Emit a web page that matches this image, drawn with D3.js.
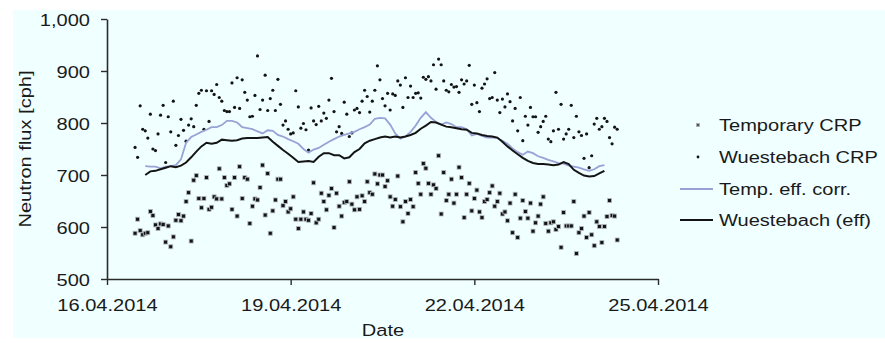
<!DOCTYPE html>
<html><head><meta charset="utf-8">
<script src="https://cdn.jsdelivr.net/npm/d3@7"></script>
<style>
html,body{margin:0;padding:0;background:#ffffff;}
svg{display:block;font-family:"Liberation Sans",Arial,sans-serif;}
</style>
</head><body>
<svg id="chart" width="885" height="343"></svg>
<script>
// ---------- data (hourly points, 2-hourly smoothed lines) ----------
const pointStartHour = 11;          // hours after 16.04.2014 00:00
const lineStartHour = 15;
const lineStepHours = 2;

const temporaryCRP = [
588,615,593,585,588,589,630,622,604,597,606,605,571,602,562,581,613,624,612,621,649,666,573,690,699,655,637,655,695,634,638,658,654,712,654,695,680,
683,634,695,621,716,655,695,692,607,640,654,652,676,719,623,703,588,631,652,692,692,641,649,629,635,658,615,597,615,629,615,613,626,685,608,615,665,649,
633,661,674,599,665,640,621,647,649,687,644,633,658,634,660,649,687,666,663,702,683,700,700,678,689,658,640,653,698,639,610,649,626,653,639,705,684,663,
722,713,684,663,681,674,737,625,705,651,663,692,646,663,715,695,618,663,684,631,655,671,629,618,649,653,666,679,640,649,665,625,629,612,646,589,663,580,617,
651,630,617,646,592,608,621,644,658,607,592,608,610,595,601,561,628,602,602,602,649,549,589,597,621,580,628,585,564,610,601,570,601,620,651,622,621,575
];

const wuestebachCRP = [
753,734,833,788,785,771,817,750,747,779,815,834,724,812,783,842,757,776,807,786,765,796,808,793,834,857,863,788,862,803,862,855,874,849,842,824,
822,822,877,830,887,828,883,859,844,812,813,853,929,826,844,892,824,847,863,824,884,836,796,804,788,779,781,862,831,790,799,787,748,829,804,797,832,804,819,
809,844,886,822,783,793,780,840,817,774,781,825,828,820,842,863,851,821,842,863,910,883,847,833,857,825,856,853,881,873,830,887,849,871,849,857,858,848,
888,884,889,881,912,865,923,912,881,863,860,874,869,870,859,883,875,881,911,836,873,839,822,867,875,885,847,849,897,844,820,846,831,856,841,804,828,785,849,
766,813,796,830,812,812,782,793,803,813,769,764,785,859,788,836,769,779,788,834,772,813,783,776,732,779,714,737,798,809,788,793,809,803,772,760,792,788
];

const tempEffCorr = [
717,716,716,713,716,717,719,730,762,773,778,783,787,792,792,796,804,804,801,792,
790,788,784,780,786,785,777,774,769,765,760,750,743,749,752,758,764,769,774,777,
780,783,788,792,797,808,810,809,797,780,770,774,783,795,810,821,810,802,797,801,
798,792,792,788,776,779,775,772,772,771,766,760,751,744,739,745,742,736,733,729,
726,723,722,718,716,714,711,708,711,717,719
];

const wuestebachEff = [
700,707,708,711,714,717,715,718,724,734,745,755,762,760,762,768,767,766,767,770,
771,771,771,772,773,764,756,748,741,733,725,726,727,725,735,742,742,738,738,732,
734,744,750,761,766,769,772,774,772,774,772,774,777,781,789,795,802,801,797,793,
792,790,788,787,781,780,777,775,774,772,764,755,747,740,733,727,723,721,721,720,
719,720,725,721,710,704,699,697,698,703,708
];

const yTickValues = [500, 600, 700, 800, 900, 1000];
const xTickLabels = ["16.04.2014", "19.04.2014", "22.04.2014", "25.04.2014"];
const legendLabels = ["Temporary CRP", "Wuestebach CRP", "Temp. eff. corr.", "Wuestebach (eff)"];
const yAxisTitle = "Neutron flux [cph]";
const xAxisTitle = "Date";

// ---------- chart ----------
const svg = d3.select("#chart");
const SX = 1.18;               // horizontal text stretch of the original
const FS = 17;
const blueColor = "#98a2d6";
const darkColor = "#141414";
const axisColor = "#2b2b2b";
const textColor = "#1a1a1a";

svg.append("rect").attr("x", 13).attr("y", 10).attr("width", 872).attr("height", 328)
  .attr("fill", "#f0ffff");

const parseD = d3.timeParse("%d.%m.%Y");
const t0 = parseD(xTickLabels[0]);
const tEnd = parseD(xTickLabels[xTickLabels.length - 1]);
const hourToDate = h => new Date(t0.getTime() + h * 3600e3);

const x = d3.scaleTime().domain([t0, tEnd]).range([107, 658]);
const y = d3.scaleLinear().domain([500, 1000]).range([279, 19]);

const tempPts = temporaryCRP.map((v, i) => ({t: hourToDate(pointStartHour + i), v}));
const wuePts = wuestebachCRP.map((v, i) => ({t: hourToDate(pointStartHour + i), v}));
const blueLine = tempEffCorr.map((v, i) => ({t: hourToDate(lineStartHour + i * lineStepHours), v}));
const darkLine = wuestebachEff.map((v, i) => ({t: hourToDate(lineStartHour + i * lineStepHours), v}));

// axes
const yAxis = d3.axisLeft(y).tickValues(yTickValues).tickFormat(d3.format(",")).tickSize(6).tickSizeOuter(0);
const gy = svg.append("g").attr("transform", `translate(${x.range()[0]},0)`).call(yAxis);
gy.select(".domain").attr("stroke", axisColor).attr("stroke-width", 1.6);
gy.selectAll(".tick line").attr("stroke", axisColor).attr("stroke-width", 1.4);
gy.selectAll(".tick text").attr("font-size", FS).attr("fill", textColor)
  .attr("font-family", "Liberation Sans, Arial, sans-serif")
  .attr("x", -17 / SX).attr("dy", "0.36em").attr("transform", `scale(${SX},1)`);

const xAxis = d3.axisBottom(x).tickValues(xTickLabels.map(parseD))
  .tickFormat(d3.timeFormat("%d.%m.%Y")).tickSize(6).tickSizeOuter(0);
const gx = svg.append("g").attr("transform", `translate(0,${y.range()[0]})`).call(xAxis);
gx.select(".domain").attr("stroke", axisColor).attr("stroke-width", 1.6);
gx.selectAll(".tick line").attr("stroke", axisColor).attr("stroke-width", 1.4);
gx.selectAll(".tick text").attr("font-size", FS).attr("fill", textColor)
  .attr("font-family", "Liberation Sans, Arial, sans-serif")
  .attr("y", 32).attr("dy", 0).attr("transform", `scale(${SX},1)`);

// axis titles
svg.append("text").attr("transform", `translate(${383},${336}) scale(${SX},1)`)
  .attr("text-anchor", "middle").attr("font-size", FS).attr("fill", textColor).text(xAxisTitle);
svg.append("text").attr("transform", `translate(${31},${149}) rotate(-90) scale(${SX},1)`)
  .attr("text-anchor", "middle").attr("font-size", FS).attr("fill", textColor).text(yAxisTitle);

// points
svg.append("g").selectAll("circle").data(wuePts).join("circle")
  .attr("cx", d => x(d.t)).attr("cy", d => y(d.v)).attr("r", 1.6)
  .attr("fill", darkColor);

svg.append("g").selectAll("rect").data(tempPts).join("rect")
  .attr("x", d => x(d.t) - 2).attr("y", d => y(d.v) - 2)
  .attr("width", 4).attr("height", 4)
  .attr("fill", darkColor).attr("stroke", "#b4bcc4").attr("stroke-width", 0.8);

// lines
const lineGen = d3.line().x(d => x(d.t)).y(d => y(d.v));
svg.append("path").datum(blueLine).attr("d", lineGen)
  .attr("fill", "none").attr("stroke", blueColor).attr("stroke-width", 1.8);
svg.append("path").datum(darkLine).attr("d", lineGen)
  .attr("fill", "none").attr("stroke", darkColor).attr("stroke-width", 2);

// legend
const lg = svg.append("g");
const rowsY = [125, 157, 189, 220];
lg.append("rect").attr("x", 696.5).attr("y", rowsY[0] - 1.5).attr("width", 3).attr("height", 3)
  .attr("fill", "#555").attr("stroke", "#aab").attr("stroke-width", 0.8);
lg.append("circle").attr("cx", 698).attr("cy", rowsY[1]).attr("r", 1.4).attr("fill", darkColor);
lg.append("line").attr("x1", 680).attr("x2", 713).attr("y1", rowsY[2]).attr("y2", rowsY[2])
  .attr("stroke", blueColor).attr("stroke-width", 1.8);
lg.append("line").attr("x1", 680).attr("x2", 713).attr("y1", rowsY[3]).attr("y2", rowsY[3])
  .attr("stroke", darkColor).attr("stroke-width", 2);
legendLabels.forEach((lab, i) => {
  lg.append("text").attr("transform", `translate(719,${rowsY[i]}) scale(${SX},1)`)
    .attr("dy", "0.36em").attr("font-size", FS).attr("fill", textColor).text(lab);
});
</script>
</body></html>
